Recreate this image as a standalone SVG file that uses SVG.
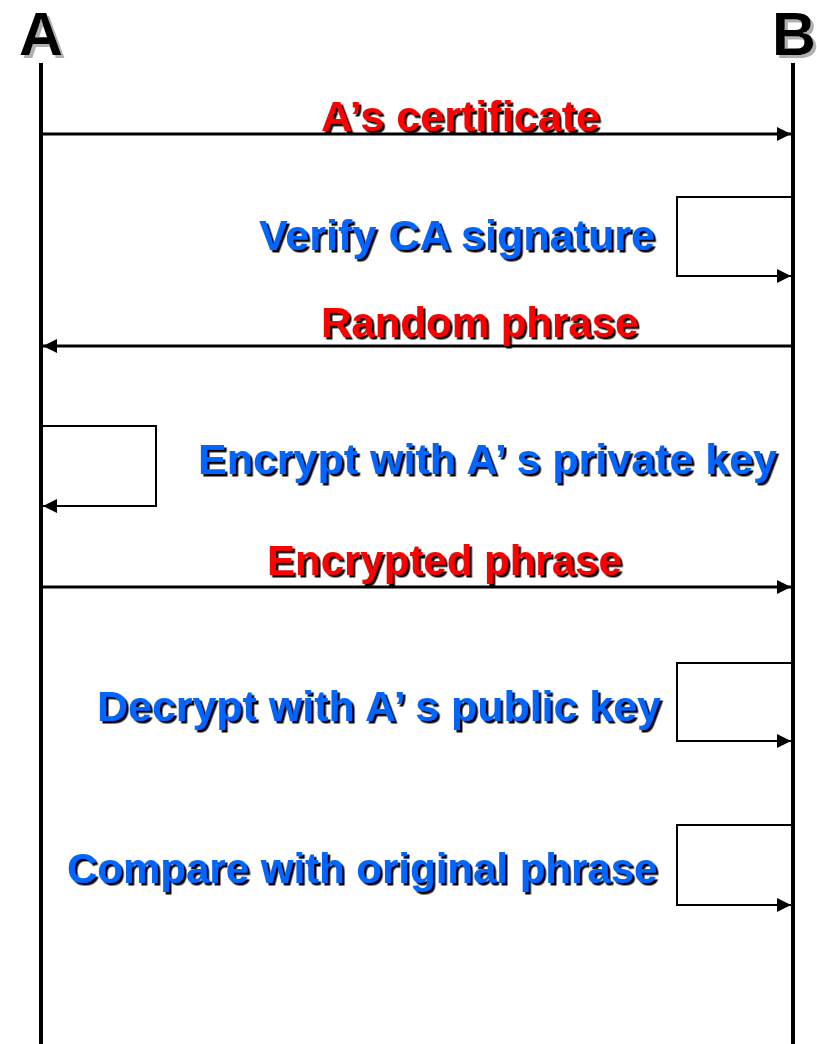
<svg xmlns="http://www.w3.org/2000/svg" width="817" height="1044" viewBox="0 0 817 1044">
  <defs>
    <marker id="arrow" markerUnits="userSpaceOnUse" markerWidth="15" markerHeight="15" refX="14" refY="7" orient="auto">
      <path d="M0,0 L14,7 L0,14 z" fill="#000"/>
    </marker>
    <filter id="shadow" x="-5%" y="-20%" width="115%" height="150%">
      <feDropShadow dx="2.5" dy="2.5" stdDeviation="0.3" flood-color="#000" flood-opacity="1"/>
    </filter>
    <filter id="grayshadow" x="-20%" y="-20%" width="150%" height="150%">
      <feDropShadow dx="3" dy="3" stdDeviation="0.5" flood-color="#b0b0b0" flood-opacity="1"/>
    </filter>
  </defs>
  <style>
    .lbl { font-family: "Liberation Sans", Arial, sans-serif; font-weight: bold; font-size: 42px; filter: url(#shadow); }
    .red { fill: #FF0000; }
    .blue { fill: #0066FF; }
    .actor { font-family: "Liberation Sans", Arial, sans-serif; font-weight: bold; font-size: 61px; fill: #000; filter: url(#grayshadow); }
    .life { stroke: #000; stroke-width: 4; fill: none; }
    .msg { stroke: #000; stroke-width: 3; fill: none; marker-end: url(#arrow); }
    .loop { stroke: #000; stroke-width: 2; fill: none; marker-end: url(#arrow); }
  </style>
  <rect width="817" height="1044" fill="#fff"/>

  <g id="actorA">
    <text class="actor" x="19" y="55">A</text>
    <line class="life" x1="41" y1="63" x2="41" y2="1044"/>
  </g>
  <g id="actorB">
    <text class="actor" x="772" y="55">B</text>
    <line class="life" x1="793" y1="63" x2="793" y2="1044"/>
  </g>

  <g id="connectors">
    <line class="msg" x1="43" y1="134" x2="791" y2="134"/>
    <path class="loop" d="M791,197 H677 V276 H791"/>
    <line class="msg" x1="791" y1="346" x2="43" y2="346"/>
    <path class="loop" d="M43,426 H156 V506 H43"/>
    <line class="msg" x1="43" y1="587" x2="791" y2="587"/>
    <path class="loop" d="M791,663 H677 V741 H791"/>
    <path class="loop" d="M791,825 H677 V905 H791"/>
  </g>

  <g id="msg-certificate"><text class="lbl red" x="321" y="131" textLength="279" lengthAdjust="spacingAndGlyphs">A’s certificate</text></g>
  <g id="step-verify"><text class="lbl blue" x="259" y="250" textLength="396" lengthAdjust="spacingAndGlyphs">Verify CA signature</text></g>
  <g id="msg-random"><text class="lbl red" x="321" y="337">Random phrase</text></g>
  <g id="step-encrypt"><text class="lbl blue" x="198" y="474" textLength="579" lengthAdjust="spacingAndGlyphs">Encrypt with A’ s private key</text></g>
  <g id="msg-encrypted"><text class="lbl red" x="267" y="575">Encrypted phrase</text></g>
  <g id="step-decrypt"><text class="lbl blue" x="97" y="721" textLength="564" lengthAdjust="spacingAndGlyphs">Decrypt with A’ s public key</text></g>
  <g id="step-compare"><text class="lbl blue" x="67" y="883">Compare with original phrase</text></g>
</svg>
